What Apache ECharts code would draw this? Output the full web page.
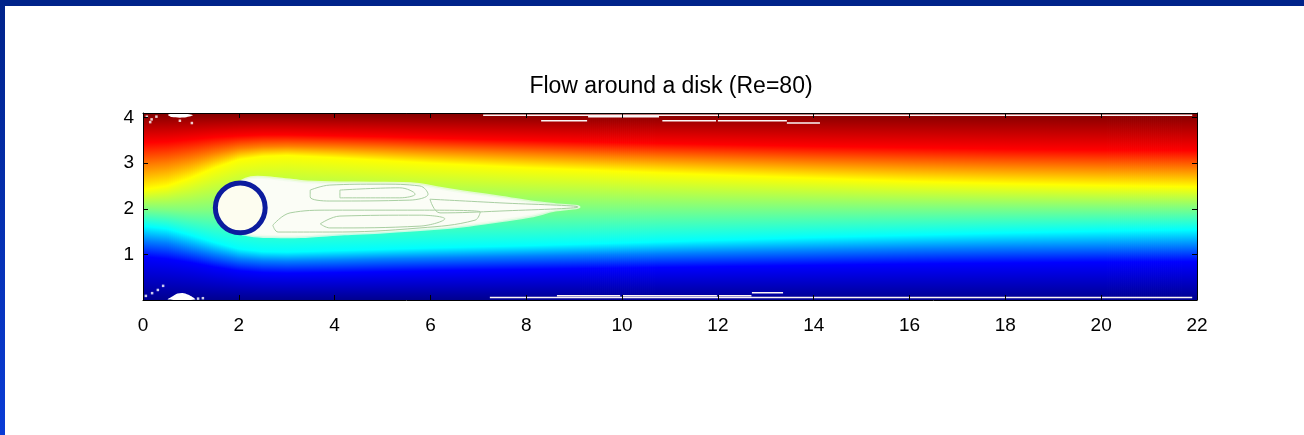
<!DOCTYPE html>
<html><head><meta charset="utf-8">
<script src="https://cdn.jsdelivr.net/npm/echarts@6/dist/echarts.min.js"></script>
<style>html,body{margin:0;padding:0;background:#fff;overflow:hidden}#c{width:1304px;height:435px}</style>
</head><body><div id="c"></div>
<script>
// ---------------- data ----------------
const chartTitle = 'Flow around a disk (Re=80)';
const xMin = 0, xMax = 22, xStep = 2;
const yMin = 0, yMax = 4.1, yStep = 1;

// columns where the level curves were read
const xCols = [0, 0.5, 1, 1.5, 2, 2.5, 3, 4, 5, 6, 8, 10, 12, 14, 16, 18, 20, 22];
// field levels (normalised stream function) and y-position of each level at each column
const levelValues = [0, 0.125, 0.25, 0.375, 0.5, 0.625, 0.75, 0.875, 1];
const level0125 = [0.95, 0.90, 0.82, 0.72, 0.64, 0.60, 0.59, 0.60, 0.62, 0.64, 0.67, 0.70, 0.73, 0.76, 0.79, 0.81, 0.83, 0.84];
const level0250 = [1.30, 1.25, 1.12, 1.00, 0.90, 0.86, 0.85, 0.87, 0.90, 0.92, 0.96, 1.00, 1.04, 1.08, 1.12, 1.15, 1.17, 1.19];
const level0375 = [1.62, 1.56, 1.42, 1.26, 1.12, 1.06, 1.05, 1.08, 1.11, 1.14, 1.19, 1.25, 1.31, 1.37, 1.42, 1.47, 1.51, 1.54];
const level0500 = [2.00, 1.98, 1.96, 1.97, 2.05, 2.05, 2.05, 2.05, 2.04, 2.03, 2.02, 2.02, 2.02, 2.02, 2.02, 2.02, 2.02, 2.02];
const level0625 = [2.42, 2.50, 2.68, 2.90, 3.08, 3.15, 3.17, 3.12, 3.06, 3.00, 2.90, 2.82, 2.74, 2.67, 2.60, 2.55, 2.51, 2.48];
const level0750 = [2.95, 3.00, 3.10, 3.22, 3.32, 3.36, 3.37, 3.35, 3.32, 3.28, 3.21, 3.14, 3.08, 3.02, 2.97, 2.93, 2.90, 2.88];
const level0875 = [3.45, 3.47, 3.52, 3.57, 3.60, 3.62, 3.62, 3.60, 3.58, 3.55, 3.50, 3.45, 3.41, 3.37, 3.34, 3.31, 3.29, 3.28];

// disk
const diskCenter = [2.03, 2.02];
const diskRadius = 0.52;

// white wake region outline
const wakeX = [1.9, 2.25, 2.8, 3.3, 3.9, 4.8, 5.7, 6.2, 6.8, 7.5, 8.1, 8.6, 9.1, 8.6, 8.1, 7.5, 6.8, 6.0, 5.0, 4.2, 3.3, 2.7, 2.25, 1.9];
const wakeY = [2.45, 2.68, 2.66, 2.6, 2.57, 2.56, 2.54, 2.45, 2.35, 2.25, 2.15, 2.09, 2.04, 1.97, 1.84, 1.74, 1.64, 1.56, 1.49, 1.45, 1.39, 1.39, 1.42, 1.55];

// contour loops inside the wake
const contourUpper = [[3.49,2.41],[3.90,2.52],[4.95,2.54],[5.78,2.50],[5.95,2.32],[5.57,2.19],[3.90,2.17],[3.49,2.26],[3.49,2.41]];
const contourUpperInner = [[4.11,2.41],[5.36,2.46],[5.68,2.32],[5.36,2.24],[4.11,2.24],[4.11,2.41]];
const contourLower = [[2.71,1.64],[3.07,1.91],[3.90,1.97],[5.78,1.97],[7.04,1.93],[6.93,1.75],[5.78,1.58],[3.90,1.49],[2.82,1.49],[2.71,1.64]];
const contourLowerInner = [[3.70,1.67],[4.11,1.84],[5.78,1.86],[6.30,1.78],[5.78,1.62],[3.90,1.58],[3.70,1.67]];
const contourTip = [[5.99,2.21],[7.45,2.13],[9.08,2.04],[7.45,1.95],[6.20,1.91],[5.99,2.21]];

// white contour fragments along the walls
const edgeSegX0 = [7.1, 8.31, 9.29, 10.84, 12.0, 13.44, 7.24, 8.64, 10.0, 12.0, 12.71];
const edgeSegX1 = [21.9, 9.27, 10.77, 11.96, 13.44, 14.13, 21.9, 9.96, 11.98, 12.7, 13.36];
const edgeSegY  = [4.05, 3.93, 4.02, 3.93, 3.93, 3.88, 0.055, 0.094, 0.094, 0.094, 0.16];

// corner speckles
const speckX = [0.08, 0.18, 0.28, 0.15, 0.77, 1.02, 0.06, 0.19, 0.31, 0.42, 1.15, 1.25];
const speckY = [4.02, 3.96, 4.02, 3.90, 3.93, 3.88, 0.09, 0.15, 0.22, 0.31, 0.03, 0.04];
const blobTopX = [0.52, 0.62, 0.85, 1.04, 0.85, 0.6];
const blobTopY = [4.06, 4.09, 4.09, 4.05, 4.0, 4.01];
const moundX = [0.52, 0.62, 0.72, 0.85, 0.98, 1.09];
const moundY = [0.01, 0.08, 0.14, 0.15, 0.10, 0.01];

// ---------------- styles ----------------
const jet = ['#00008f', '#0000ff', '#0080ff', '#00ffff', '#80ff80', '#ffff00', '#ff8000', '#ff0000', '#800000'];
const FONT = '"Liberation Sans", Arial, Helvetica, sans-serif';

const levelRows = [null, level0125, level0250, level0375, level0500, level0625, level0750, level0875, null];

function fieldItem(params, api) {
  const i = api.value(2);
  const xa = xCols[i], xb = xCols[i + 1];
  const pa = api.coord([xa, yMin]), pb = api.coord([xb, yMin]);
  const yBot = pa[1], yTop = api.coord([xa, yMax])[1];
  const span = pb[0] - pa[0];
  const n = Math.max(1, Math.round(span / 2));
  const children = [];
  for (let s = 0; s < n; s++) {
    const t = (s + 0.5) / n;
    const xm = xa + (xb - xa) * t;
    let prev = 0;
    const stops = levelRows.map((row, k) => {
      let off;
      if (k === 0) off = 0;
      else if (k === levelRows.length - 1) off = 1;
      else {
        const yv = row[i] + (row[i + 1] - row[i]) * t;
        const py = api.coord([xm, yv])[1];
        off = (yBot - py) / (yBot - yTop);
      }
      off = Math.min(1, Math.max(prev, off));
      prev = off;
      return { offset: off, color: jet[k] };
    });
    children.push({
      type: 'rect',
      shape: { x: pa[0] + span * s / n, y: yTop, width: span / n + 0.8, height: yBot - yTop },
      style: { fill: { type: 'linear', x: 0, y: yBot, x2: 0, y2: yTop, global: true, colorStops: stops } },
      silent: true
    });
  }
  return { type: 'group', children };
}

function polySeries(xsArr, ysArr, style, z) {
  return {
    type: 'custom', coordinateSystem: 'cartesian2d', z: z, silent: true, clip: true,
    data: [[xsArr[0], ysArr[0]]],
    renderItem: function (params, api) {
      const pts = xsArr.map((x, j) => api.coord([x, ysArr[j]]));
      return { type: 'polygon', shape: { points: pts, smooth: 0.3 }, style: style };
    }
  };
}

const contourStyle = { color: '#a9cfa2', width: 1 };
function contourSeries(pts) {
  return { type: 'line', data: pts, symbol: 'none', z: 5, silent: true, smooth: 0.4,
    lineStyle: contourStyle, animation: false };
}

const chart = echarts.init(document.getElementById('c'), null, { renderer: 'canvas' });
const axisCommon = {
  type: 'value', z: 20,
  axisLine: { show: true, onZero: false, lineStyle: { color: '#000', width: 1 } },
  axisTick: { show: true, inside: true, length: 5, lineStyle: { color: '#000' } },
  splitLine: { show: false }
};
chart.setOption({
  animation: false,
  backgroundColor: '#ffffff',
  graphic: [
    { type: 'rect', shape: { x: 0, y: 0, width: 1304, height: 6 }, style: { fill: '#00238a' }, z: 100 },
    { type: 'rect', shape: { x: 0, y: 0, width: 5, height: 435 },
      style: { fill: { type: 'linear', x: 0, y: 0, x2: 0, y2: 1, colorStops: [{ offset: 0, color: '#00238a' }, { offset: 1, color: '#0a3cd6' }] } }, z: 100 },
    { type: 'text', x: 671, y: 87, z: 100,
      style: { text: chartTitle, align: 'center', verticalAlign: 'middle', font: '23px ' + FONT, fill: '#000' } }
  ],
  grid: { left: 143, right: 107, top: 113, bottom: 135, containLabel: false },
  xAxis: [
    Object.assign({}, axisCommon, { min: xMin, max: xMax, interval: xStep, position: 'bottom',
      axisLabel: { show: true, margin: 16, color: '#000', fontSize: 19, fontFamily: FONT } }),
    Object.assign({}, axisCommon, { min: xMin, max: xMax, interval: xStep, position: 'top', axisLabel: { show: false } })
  ],
  yAxis: [
    Object.assign({}, axisCommon, { min: yMin, max: yMax, interval: yStep, position: 'left',
      axisLabel: { show: true, margin: 9, color: '#000', fontSize: 19, fontFamily: FONT, showMinLabel: false, showMaxLabel: false,
        formatter: v => (Number.isInteger(v) && v > 0 ? String(v) : '') } }),
    Object.assign({}, axisCommon, { min: yMin, max: yMax, interval: yStep, position: 'right', axisLabel: { show: false } })
  ],
  series: [
    {
      type: 'custom', coordinateSystem: 'cartesian2d', z: 1, silent: true, clip: true,
      renderItem: fieldItem,
      encode: { x: [0, 1], y: [3, 4] },
      data: xCols.slice(0, -1).map((x, i) => [x, xCols[i + 1], i, yMin, yMax])
    },
    polySeries(wakeX, wakeY, { fill: '#fbfdf6', stroke: 'rgba(240,250,235,0.8)', lineWidth: 3 }, 3),
    contourSeries(contourUpper),
    contourSeries(contourUpperInner),
    contourSeries(contourLower),
    contourSeries(contourLowerInner),
    contourSeries(contourTip),
    {
      type: 'custom', coordinateSystem: 'cartesian2d', z: 6, silent: true, clip: true,
      data: edgeSegX0.map((x0, j) => [x0, edgeSegX1[j], edgeSegY[j]]),
      encode: { x: [0, 1], y: 2 },
      renderItem: function (params, api) {
        const a = api.coord([api.value(0), api.value(2)]);
        const b = api.coord([api.value(1), api.value(2)]);
        return { type: 'line', shape: { x1: a[0], y1: a[1], x2: b[0], y2: b[1] }, style: { stroke: '#fbf4f4', lineWidth: 1.5 } };
      }
    },
    {
      type: 'scatter', z: 6, silent: true, symbol: 'rect', symbolSize: 2.5,
      itemStyle: { color: '#ffffff' },
      data: speckX.map((x, j) => [x, speckY[j]])
    },
    polySeries(blobTopX, blobTopY, { fill: '#ffffff' }, 6),
    polySeries(moundX, moundY, { fill: '#ffffff' }, 6),
    {
      type: 'custom', coordinateSystem: 'cartesian2d', z: 8, silent: true,
      data: [[diskCenter[0], diskCenter[1], diskRadius]],
      renderItem: function (params, api) {
        const c = api.coord([api.value(0), api.value(1)]);
        const r = api.size([api.value(2), 0])[0];
        return { type: 'circle', shape: { cx: c[0], cy: c[1], r: r }, style: { fill: '#fdfdf0', stroke: '#0c1c9e', lineWidth: 5 } };
      }
    }
  ]
});
</script>
</body></html>
